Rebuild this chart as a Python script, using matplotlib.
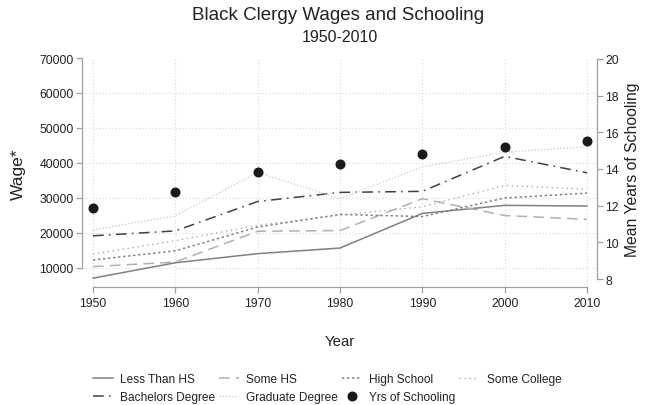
import matplotlib
matplotlib.use("Agg")
import matplotlib.pyplot as plt

years = [1950, 1960, 1970, 1980, 1990, 2000, 2010]
less_than_hs = [7100, 11500, 14100, 15700, 25600, 27900, 27700]
some_hs = [10400, 11700, 20500, 20700, 29800, 25000, 23900]
high_school = [12300, 14900, 21700, 25300, 24700, 30000, 31400]
some_college = [14000, 17800, 22200, 25100, 27500, 33600, 32500]
bachelors = [19200, 20600, 29000, 31600, 31900, 41900, 37200]
graduate = [20900, 24900, 37300, 29800, 38900, 43100, 44600]
yrs_schooling = [11.85, 12.72, 13.82, 14.27, 14.82, 15.18, 15.54]

wage_ticks = [10000, 20000, 30000, 40000, 50000, 60000, 70000]
school_ticks = [8, 10, 12, 14, 16, 18, 20]

plt.rcParams['font.family'] = ['Liberation Sans', 'DejaVu Sans']
txt = '#222222'
spine_c = '#a0a0a0'

W, H = 648, 406
fig = plt.figure(figsize=(W / 100, H / 100), dpi=100)
left, right, top, bottom = 82, 597, 59, 288
ax = fig.add_axes([left / W, 1 - bottom / H, (right - left) / W, (bottom - top) / H])
ax2 = ax.twinx()

lw = 1.1
h1, = ax.plot(years, less_than_hs, color='#808080', lw=lw, ls='-', label='Less Than HS')
h2, = ax.plot(years, some_hs, color='#b0b0b0', lw=lw, ls=(0, (7, 4)), label='Some HS')
h3, = ax.plot(years, high_school, color='#808080', lw=lw, ls=(0, (1.5, 1.8)), label='High School')
h4, = ax.plot(years, some_college, color='#9a9a9a', lw=0.9, ls=(0, (1, 3)), label='Some College')
h5, = ax.plot(years, bachelors, color='#404040', lw=lw, ls=(0, (7, 3.5, 1, 3.5)), label='Bachelors Degree')
h6, = ax.plot(years, graduate, color='#c8c8c8', lw=0.9, ls=(0, (1, 1.6)), label='Graduate Degree')
h7, = ax2.plot(years, yrs_schooling, ls='none', marker='o', ms=6.2, color='#1a1a1a', label='Yrs of Schooling')

ax.set_xlim(1950 - 11 / 8.233, 2010 + 10 / 8.233)
ax.set_ylim(4571, 70000)
ax2.set_ylim(7.564, 20.05)

ax.set_xticks(years)
ax.set_yticks(wage_ticks)
ax.set_yticklabels([str(v) for v in wage_ticks])
ax2.set_yticks(school_ticks)

# grid
for v in wage_ticks[:-1]:
    ax.axhline(v, color='#d8d8d8', lw=0.8, ls=(0, (1, 2)), zorder=0)
for yv in years:
    ax.axvline(yv, color='#d8d8d8', lw=0.8, ls=(0, (1, 2)), zorder=0)

for a in (ax, ax2):
    a.spines['top'].set_visible(False)
    for s in a.spines.values():
        s.set_color(spine_c)
        s.set_linewidth(0.9)
ax.spines['right'].set_visible(False)
ax2.spines['left'].set_visible(False)
ax2.spines['bottom'].set_visible(False)
ax.spines['left'].set_bounds(10000, 70000)
ax.spines['bottom'].set_bounds(1950, 2010)
ax2.spines['right'].set_bounds(8, 20)

ax.tick_params(axis='both', direction='out', length=4, width=0.9, color=spine_c,
               labelsize=8.8, labelcolor=txt, pad=2)
ax.tick_params(axis='x', pad=3)
ax2.tick_params(axis='y', direction='out', length=4, width=0.9, color=spine_c,
                labelsize=8.8, labelcolor=txt, pad=2)

fig.text(18 / W, 1 - 174 / H, 'Wage*', rotation=90, ha='center', va='center', fontsize=12.5, color=txt)
fig.text(632 / W, 1 - 170 / H, 'Mean Years of Schooling', rotation=90, ha='center', va='center',
         fontsize=11.3, color=txt)
fig.text(340 / W, 1 - 342 / H, 'Year', ha='center', va='center', fontsize=10.8, color=txt)
fig.text(338 / W, 1 - 16 / H, 'Black Clergy Wages and Schooling', ha='center', va='center',
         fontsize=13.5, color=txt)
fig.text(340 / W, 1 - 37 / H, '1950-2010', ha='center', va='center', fontsize=11.5, color=txt)

handles = [h1, h5, h2, h6, h3, h7, h4]
leg = fig.legend(handles=handles, labels=[h.get_label() for h in handles], ncol=4,
                 loc='center', bbox_to_anchor=(327 / W, 1 - 389 / H), frameon=False,
                 fontsize=8.6, handlelength=1.7, handletextpad=0.6, columnspacing=0.3,
                 labelspacing=0.45, borderpad=0, borderaxespad=0, numpoints=1)
for t in leg.get_texts():
    t.set_color(txt)

fig.savefig('out.png', dpi=100)
